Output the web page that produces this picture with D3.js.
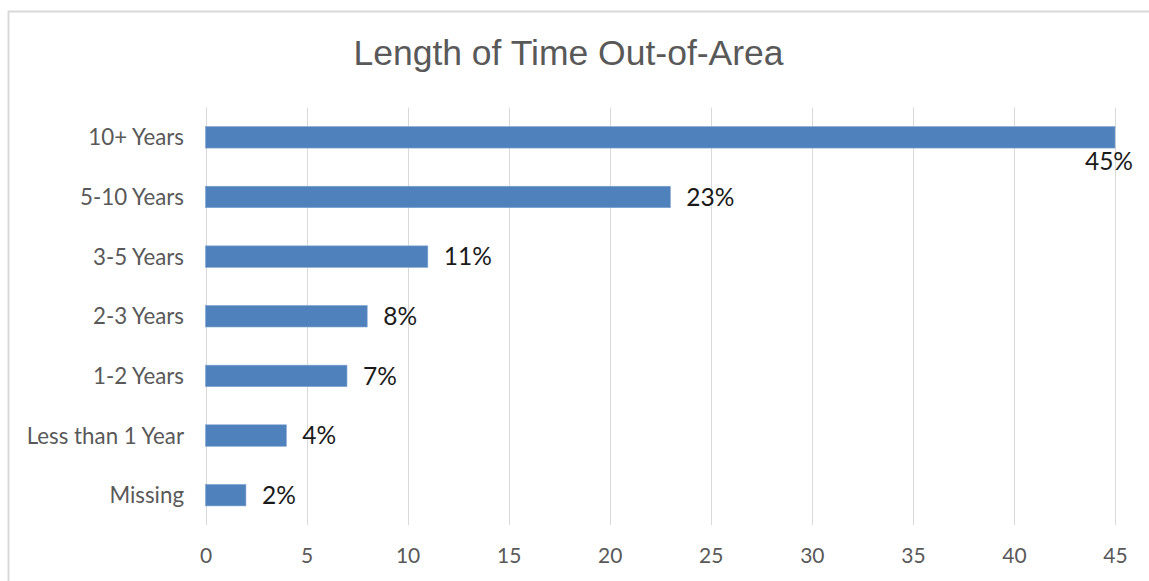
<!DOCTYPE html>
<html>
<head>
<meta charset="utf-8">
<script src="https://cdn.jsdelivr.net/npm/d3@7"></script>
<style>
  html, body { margin: 0; padding: 0; background: #fff; }
  svg { display: block; }
</style>
</head>
<body>
<svg id="chart" width="1149" height="581"></svg>
<script>
// Survey responses: how long respondents have been out of the area (percent)
const categories = ["10+ Years", "5-10 Years", "3-5 Years", "2-3 Years", "1-2 Years", "Less than 1 Year", "Missing"];
const percents = [45, 23, 11, 8, 7, 4, 2];
const tickValues = [0, 5, 10, 15, 20, 25, 30, 35, 40, 45];
const title = "Length of Time Out-of-Area";

const W = 1149, H = 581;
const svg = d3.select("#chart");

// chart frame (light border, open to the right and bottom of the view)
svg.append("rect")
  .attr("x", 8.5).attr("y", 11.5)
  .attr("width", W + 20).attr("height", H + 20)
  .attr("fill", "#fff")
  .attr("stroke", "#d9d9d9")
  .attr("stroke-width", 2);

svg.append("text")
  .attr("x", 568.5).attr("y", 65)
  .attr("text-anchor", "middle")
  .attr("font-family", "'Liberation Sans', Arial, sans-serif")
  .attr("font-size", 35.5)
  .attr("fill", "#595959")
  .text(title);

const plot = { left: 205.5, right: 1115, top: 107.5, bottom: 525 };

const x = d3.scaleLinear().domain([0, 45]).range([plot.left, plot.right]);
const y = d3.scaleBand()
  .domain(categories)
  .range([plot.top, plot.bottom])
  .paddingInner(0.64)
  .paddingOuter(0.32);

// vertical gridlines
svg.append("g")
  .selectAll("line")
  .data(tickValues)
  .join("line")
  .attr("x1", d => Math.round(x(d)) + 0.5)
  .attr("x2", d => Math.round(x(d)) + 0.5)
  .attr("y1", plot.top)
  .attr("y2", plot.bottom)
  .attr("stroke", "#d9d9d9")
  .attr("stroke-width", 1);

// x axis tick labels
const xAxis = d3.axisBottom(x).tickValues(tickValues).tickSize(0).tickPadding(0).tickFormat(d3.format("d"));
const gx = svg.append("g")
  .attr("transform", `translate(0, ${plot.bottom})`)
  .call(xAxis);
gx.select(".domain").remove();
gx.selectAll("text")
  .attr("dy", null)
  .attr("y", 38)
  .attr("font-family", "Lato, 'Open Sans', sans-serif")
  .attr("font-size", 21)
  .attr("fill", "#595959");

// category labels
const yAxis = d3.axisLeft(y).tickSize(0).tickPadding(0);
const gy = svg.append("g")
  .attr("transform", `translate(184, 0)`)
  .call(yAxis);
gy.select(".domain").remove();
gy.selectAll("text")
  .attr("dy", "0.36em")
  .attr("font-family", "Lato, 'Open Sans', sans-serif")
  .attr("font-size", 22.3)
  .attr("fill", "#595959");

const rows = categories.map((c, i) => ({ c, v: percents[i] }));

// bars
svg.append("g")
  .selectAll("rect")
  .data(rows)
  .join("rect")
  .attr("x", x(0))
  .attr("y", d => y(d.c))
  .attr("width", d => x(d.v) - x(0))
  .attr("height", y.bandwidth())
  .attr("fill", "#4f81bd")
  .attr("stroke", "#7fa3d0")
  .attr("stroke-width", 0.6);

// value labels: to the right of each bar, or below its end if it would not fit
const labels = svg.append("g")
  .selectAll("text")
  .data(rows)
  .join("text")
  .attr("font-family", "Lato, 'Open Sans', sans-serif")
  .attr("font-size", 24.5)
  .attr("fill", "#1a1a1a")
  .text(d => d.v + "%");

labels.each(function (d) {
  const t = d3.select(this);
  const w = this.getComputedTextLength();
  const xr = x(d.v) + 16;
  if (xr + w > W - 4) {
    t.attr("text-anchor", "end")
      .attr("x", x(d.v) + 18)
      .attr("y", y(d.c) + y.bandwidth() + 22);
  } else {
    t.attr("x", xr)
      .attr("y", y(d.c) + y.bandwidth() / 2)
      .attr("dy", "0.36em");
  }
});
</script>
</body>
</html>
